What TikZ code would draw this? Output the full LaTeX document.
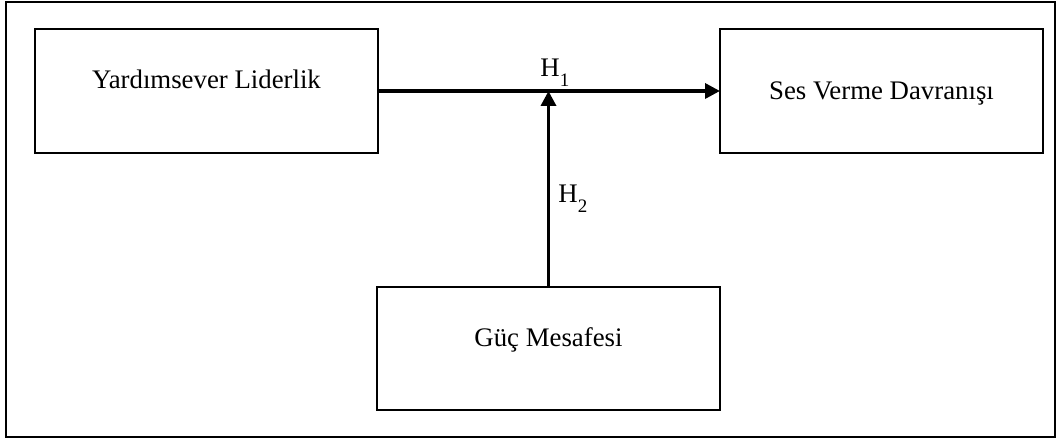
\documentclass[tikz,border=0pt]{standalone}
\usepackage{fontspec}
\setmainfont{Liberation Serif}
\usetikzlibrary{arrows.meta}

\begin{document}
\begin{tikzpicture}[x=0.5pt, y=-0.5pt,
    kutu/.style={draw, line width=1.25pt, inner sep=0pt, outer sep=0pt, font=\fontsize{13.4}{15}\selectfont, text height=9pt},
    ok/.style={line width=1.7pt, -{Triangle[length=7.5pt, width=7.5pt]}},
    etiket/.style={anchor=base west, inner sep=0pt, font=\fontsize{13.4}{15}\selectfont}]
            \useasboundingbox (0,0) rectangle (1057,438);
            % Outer frame
            \draw[line width=1.25pt] (6,2) rectangle (1055,437);

            % Boxes
            \node[kutu, minimum width=171.5pt, minimum height=62pt, text depth=11pt] (Lider) at (206.5,91) {Yardımsever Liderlik};
            \node[kutu, minimum width=161.5pt, minimum height=62pt, text depth=0pt] (Ses) at (881.5,91) {Ses Verme Davranışı};
            \node[kutu, minimum width=171.5pt, minimum height=61.5pt, text depth=11pt] (Guc) at (548.5,348.5) {Güç Mesafesi};

            % Connections
            \coordinate (Kesisim) at (Lider.east -| Guc.north);
            \draw[ok] (Lider.east) -- (Ses.west);
            \draw[ok] (Guc.north) -- (Kesisim);

            % Hypothesis labels
            \node[etiket] (H1) at (540,77) {H\raisebox{-0.36em}{\fontsize{9.5}{9.5}\selectfont 1}};
            \node[etiket] (H2) at (558,203) {H\raisebox{-0.36em}{\fontsize{9.5}{9.5}\selectfont 2}};

        \end{tikzpicture}
\end{document}
